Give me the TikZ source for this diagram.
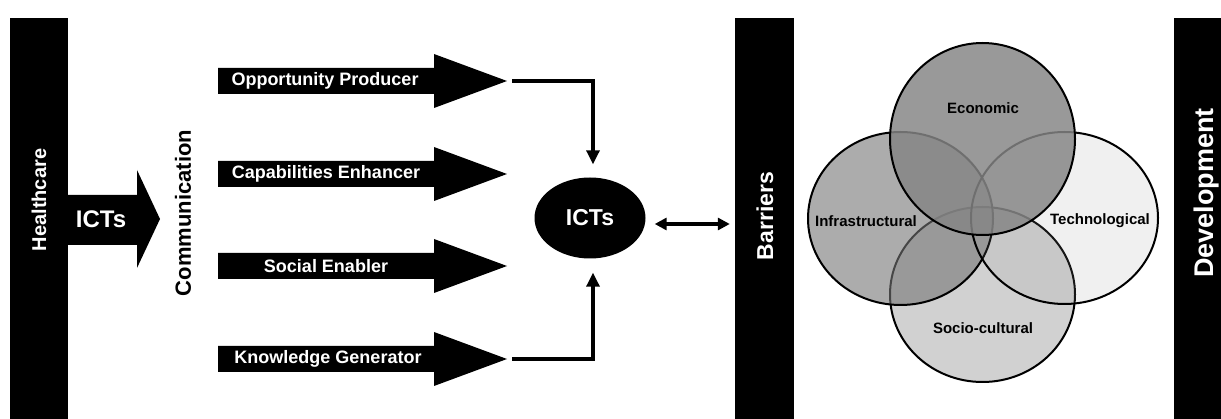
\documentclass[tikz,border=0pt]{standalone}
\usepackage{fontspec}
\setmainfont{Liberation Sans}
\usepackage{tikz}
\usetikzlibrary{arrows.meta,positioning,shapes.geometric}

\begin{document}
\begin{tikzpicture}[x=1pt, y=-1pt,
    pillar/.style={fill=black, inner sep=0pt, minimum height=401pt},
    vtext/.style={rotate=90, inner sep=0pt, font=\bfseries\fontsize{#1}{#1}\selectfont},
    flow/.style={fill=black},
    flowtext/.style={text=white, inner sep=0pt, font=\bfseries\fontsize{18}{20}\selectfont},
    link/.style={line width=3.2pt, -{Triangle[length=14pt,width=13pt]}},
    twoway/.style={line width=3.2pt, {Triangle[length=12pt,width=12pt]}-{Triangle[length=12pt,width=12pt]}},
    venn/.style={ellipse, draw=black, line width=2pt, inner sep=0pt},
    vennlabel/.style={inner sep=0pt, font=\bfseries\fontsize{15}{17}\selectfont}
]
    \useasboundingbox (0,0) rectangle (1221,419);

    % healthcare side
    \node[pillar, minimum width=58pt] (health) at (39,218.5) {};
    \node[vtext=20, text=white] (healthtxt) at (39,200) {Healthcare};
    \fill[flow] (68,195) -- (137,195) -- (137,170) -- (160,219) -- (137,268) -- (137,245) -- (68,245) -- cycle;
    \node[flowtext, font=\bfseries\fontsize{24}{26}\selectfont] (ictin) at (101,219) {ICTs};
    \node[vtext=22] (comm) at (183,213) {Communication};

    % roles of ICTs
    \fill[flow] (218,68) -- ++(216,0) -- ++(0,-14) -- ++(73,27) -- ++(-73,27) -- ++(0,-14) -- ++(-216,0) -- cycle;
    \fill[flow] (218,161) -- ++(216,0) -- ++(0,-14) -- ++(73,27) -- ++(-73,27) -- ++(0,-14) -- ++(-216,0) -- cycle;
    \fill[flow] (218,253) -- ++(216,0) -- ++(0,-14) -- ++(73,27) -- ++(-73,27) -- ++(0,-14) -- ++(-216,0) -- cycle;
    \fill[flow] (218,346) -- ++(216,0) -- ++(0,-14) -- ++(73,27) -- ++(-73,27) -- ++(0,-14) -- ++(-216,0) -- cycle;
    \coordinate (opp) at (507,81);
    \coordinate (know) at (507,359);
    \node[flowtext] (opptxt) at (325,81) {Opportunity Producer};
    \node[flowtext] (captxt) at (326,174) {Capabilities Enhancer};
    \node[flowtext] (soctxt) at (326,266) {Social Enabler};
    \node[flowtext] (knowtxt) at (328,359) {Knowledge Generator};

    \node[ellipse, fill=black, minimum width=111pt, minimum height=81pt, inner sep=0pt,
          text=white, font=\bfseries\fontsize{23}{25}\selectfont] (ict) at (590,218) {ICTs};

    \draw[link] ([xshift=5pt]opp) -| ([xshift=3pt,yshift=13pt]ict.north);
    \draw[link] ([xshift=5pt]know) -| ([xshift=3pt,yshift=-14pt]ict.south);

    % barriers
    \node[pillar, minimum width=59pt] (barrier) at (764.5,218.5) {};
    \node[vtext=23, text=white] (barriertxt) at (765,216) {Barriers};
    \coordinate (barin) at (ict.east -| barrier.west);
    \draw[twoway] ([xshift=9pt,yshift=-6pt]ict.east) -- ([xshift=-5pt,yshift=-6pt]barin);

    % venn of barriers
    \node[venn, fill=black!18, minimum width=185pt, minimum height=175pt] (socio) at (982.5,294.5) {};
    \node[venn, fill=black!54, fill opacity=0.6, minimum width=185pt, minimum height=173pt] (infra) at (900.5,218.5) {};
    \node[venn, fill=black!40, fill opacity=0.15, minimum width=187pt, minimum height=172pt] (tech) at (1064.5,218) {};
    \node[venn, fill=black!48, fill opacity=0.84, minimum width=185pt, minimum height=192pt] (econ) at (982.5,139) {};
    \node[vennlabel] (econtxt) at (983,108) {Economic};
    \node[vennlabel] (infratxt) at (866,221) {Infrastructural};
    \node[vennlabel] (techtxt) at (1100,221) {Technological};
    \node[vennlabel] (sociotxt) at (983,328) {Socio-cultural};

    % development
    \node[pillar, minimum width=47pt] (devel) at (1197.5,218.5) {};
    \node[vtext=27, text=white] (develtxt) at (1207,193) {Development};
\end{tikzpicture}
\end{document}
